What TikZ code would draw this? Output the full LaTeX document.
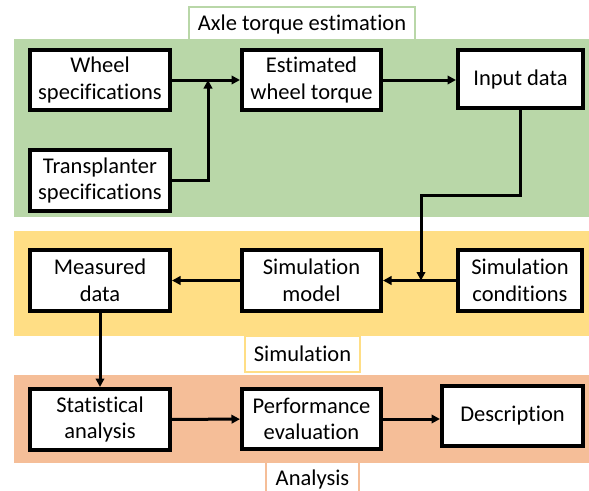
\documentclass[tikz,border=0pt]{standalone}
\usepackage{fontspec}
\setmainfont[Ligatures={NoCommon}]{Carlito}
\usetikzlibrary{arrows.meta}
\definecolor{bgreen}{HTML}{B9D7A8}
\definecolor{byellow}{HTML}{FFDE85}
\definecolor{borange}{HTML}{F5BE98}
\begin{document}
\begin{tikzpicture}[x=1pt,y=-1pt,
  stepbox/.style={draw=black,line width=3.6pt,fill=white,inner sep=0pt,align=center,
    font=\fontsize{22.5}{26.5}\selectfont},
  titlebox/.style={line width=2.2pt,fill=white,inner sep=0pt,font=\fontsize{22.5}{26.5}\selectfont},
  arr/.style={line width=3pt,-{Triangle[length=8.5pt,width=8.5pt]}},
  band/.style={draw=none}]
\useasboundingbox[fill=white] (0,0) rectangle (589,490);
% title boxes
\node[titlebox,draw=bgreen,minimum width=226pt,minimum height=34pt] (t1) at (302,24) {Axle torque estimation};
\node[titlebox,draw=byellow,minimum width=115pt,minimum height=36pt] (t2) at (302.5,354) {Simulation};
\node[titlebox,draw=borange,minimum width=93pt,minimum height=34pt] (t3) at (312.5,479) {Analysis};
% bands
\fill[bgreen] (14,39) rectangle (589,217);
\fill[byellow] (14,231) rectangle (589,336);
\fill[borange] (14,375) rectangle (589,463);
% boxes
\node[stepbox,minimum width=140.4pt,minimum height=60.4pt] (ws) at (100,80) {Wheel\\specifications};
\node[stepbox,minimum width=140.4pt,minimum height=61.4pt] (ts) at (100,180.5) {Transplanter\\specifications};
\node[stepbox,minimum width=139.4pt,minimum height=60.4pt] (ewt) at (311.5,80) {Estimated\\wheel torque};
\node[stepbox,minimum width=125.4pt,minimum height=58.4pt] (id) at (520.5,79) {Input data};
\node[stepbox,minimum width=140.4pt,minimum height=61.4pt] (md) at (100,280.5) {Measured\\data};
\node[stepbox,minimum width=139.4pt,minimum height=61.4pt] (sm) at (311.5,280.5) {Simulation\\model};
\node[stepbox,minimum width=124.4pt,minimum height=61.4pt] (sc) at (520,280.5) {Simulation\\conditions};
\node[stepbox,minimum width=140.4pt,minimum height=61.4pt] (sa) at (100,419.5) {Statistical\\analysis};
\node[stepbox,minimum width=139.4pt,minimum height=60.4pt] (pe) at (311.5,419) {Performance\\evaluation};
\node[stepbox,minimum width=141.4pt,minimum height=60.4pt] (de) at (512.5,416) {Description};
% junctions
\coordinate (j1) at (208,80);
\coordinate (b1) at (421,195);
\coordinate (j2) at (421,280.5);
% connectors
\draw[arr] (ws) -- (ewt);
\draw[arr] (ts.east) -| (j1);
\draw[arr] (ewt.east) -- (ewt.east -| id.west);
\draw[arr] (id.south) -- (id.south |- b1) -- (b1) -- (j2);
\draw[arr] (sc) -- (sm);
\draw[arr] (sm) -- (md);
\draw[arr] (md.south) -- (sa.north);
\draw[arr] (sa) -- (pe);
\draw[arr] (pe.east) -- (pe.east -| de.west);
\end{tikzpicture}
\end{document}
